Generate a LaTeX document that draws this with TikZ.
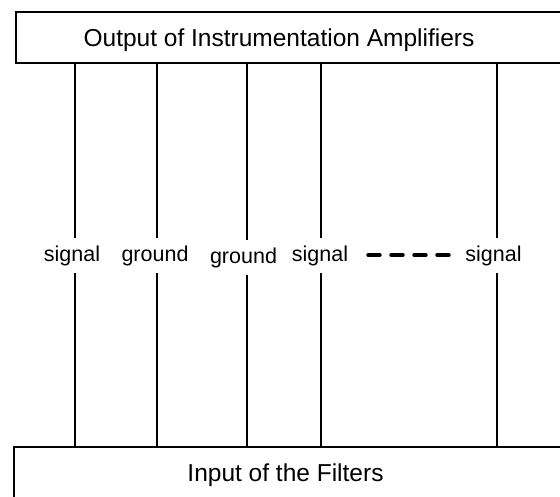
\documentclass[tikz,border=0pt]{standalone}
\usepackage{fontspec}
\setmainfont{Liberation Sans}
\begin{document}
\begin{tikzpicture}[x=1pt,y=1pt,
  box/.style={draw, line width=2pt, inner sep=0pt, anchor=north west},
  title/.style={font=\fontsize{24.5}{28}\selectfont, inner sep=0pt, anchor=base},
  lab/.style={font=\fontsize{21.5}{24}\selectfont, fill=white, inner xsep=1pt, inner ysep=7pt, text height=16pt, text depth=5pt, anchor=base},
  wire/.style={line width=2pt},
  dashwire/.style={line width=3.4pt, line cap=round, dash pattern=on 12pt off 11pt}]
\useasboundingbox (0,0) rectangle (560,-496);
\clip (0,0) rectangle (560,-496);
\node[box, minimum width=570pt, minimum height=51pt] (top) at (15,-11) {};
\node[box, minimum width=570pt, minimum height=70pt] (bot) at (13,-446) {};
\node[title] (toptext) at (279,-46) {Output of Instrumentation Amplifiers};
\node[title] (bottext) at (285.5,-481) {Input of the Filters};
% wire end points
\coordinate (a1) at (75,-62);  \coordinate (b1) at (75,-446);
\coordinate (a2) at (157,-62); \coordinate (b2) at (157,-446);
\coordinate (a3) at (247,-62); \coordinate (b3) at (247,-446);
\coordinate (a4) at (321,-62); \coordinate (b4) at (321,-446);
\coordinate (a5) at (497,-62); \coordinate (b5) at (497,-446);
\draw[wire] (a1) -- (b1);
\draw[wire] (a2) -- (b2);
\draw[wire] (a3) -- (b3);
\draw[wire] (a4) -- (b4);
\draw[wire] (a5) -- (b5);
\node[lab] (l1) at (72,-261) {signal};
\node[lab] (l2) at (155,-261) {ground};
\node[lab] (l3) at (243.5,-263) {ground};
\node[lab] (l4) at (320,-261) {signal};
\node[lab] (l5) at (493.5,-261) {signal};
\coordinate (d1) at (368,-255);
\coordinate (d2) at (450,-255);
\draw[dashwire] (d1) -- (d2);
\end{tikzpicture}
\end{document}
